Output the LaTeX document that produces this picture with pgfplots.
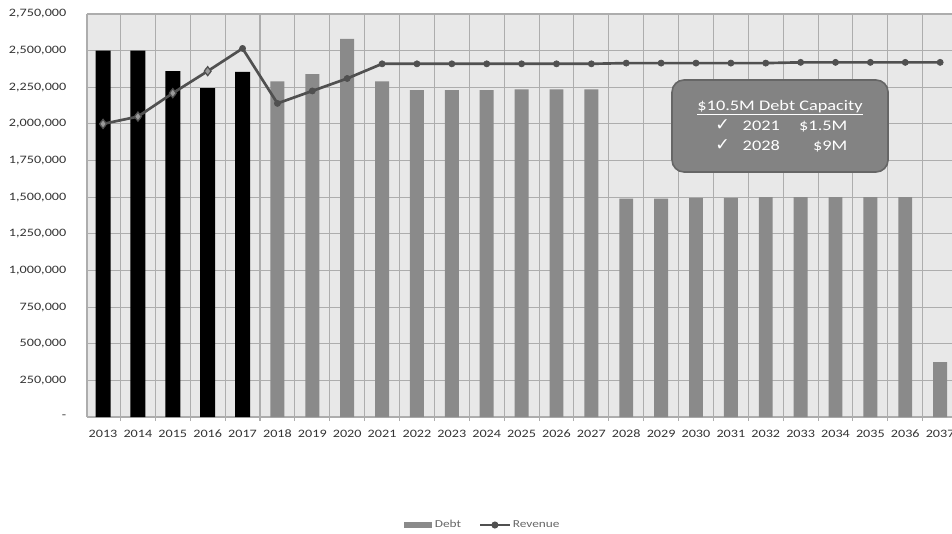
\documentclass[border=0pt]{standalone}
\usepackage{pgfplots}
\pgfplotsset{compat=1.18}
\usepackage{fontspec}
\setmainfont{Carlito}[FakeStretch=1.25]
\newfontfamily\symfont{DejaVu Sans}

\definecolor{plotbg}{HTML}{E8E8E8}
\definecolor{gridc}{HTML}{ADADAD}
\definecolor{debtgray}{HTML}{8A8A8A}
\definecolor{rev}{HTML}{505050}
\definecolor{revlight}{HTML}{9A9A9A}
\definecolor{labelc}{HTML}{333333}
\definecolor{legc}{HTML}{666666}
\definecolor{calloutfill}{HTML}{838383}
\definecolor{calloutborder}{HTML}{666666}

\begin{document}
\begin{tikzpicture}
\begin{axis}[
  at={(0pt,0pt)}, anchor=south west,
  scale only axis, width=648.75pt, height=302.25pt,
  xmin=-0.46, xmax=24.34, ymin=0, ymax=2750000,
  axis background/.style={fill=plotbg},
  axis x line*=bottom, axis y line*=left,
  axis line style={gridc, line width=0.8pt},
  scaled y ticks=false,
  ytick={0,250000,500000,750000,1000000,1250000,1500000,1750000,2000000,2250000,2500000,2750000},
  yticklabels={-,{250,000},{500,000},{750,000},{1,000,000},{1,250,000},{1,500,000},{1,750,000},{2,000,000},{2,250,000},{2,500,000},{2,750,000}},
  xtick={0,1,2,3,4,5,6,7,8,9,10,11,12,13,14,15,16,17,18,19,20,21,22,23,24},
  xticklabels={2013,2014,2015,2016,2017,2018,2019,2020,2021,2022,2023,2024,2025,2026,2027,2028,2029,2030,2031,2032,2033,2034,2035,2036,2037},
  minor xtick={-0.5,0.5,...,24.5},
  ymajorgrids, xminorgrids,
  major grid style={gridc, line width=0.8pt},
  minor grid style={gridc, line width=0.8pt},
  major tick length=0pt, minor tick length=3pt, tick align=outside,
  minor tick style={gridc, line width=0.8pt},
  ticklabel style={font=\fontsize{8.5}{10}\selectfont, text=labelc},
  yticklabel style={xshift=-12pt},
  xticklabel style={yshift=-6pt},
  /pgf/number format/assume math mode=true,
  legend style={at={(0.458,-0.268)}, anchor=center, draw=none, fill=none,
    legend columns=2, font=\fontsize{8}{10}\selectfont, text=legc,
    /tikz/every even column/.append style={column sep=12pt}},
]
% Debt, actual years (black)
\addplot[ybar, bar width=0.43, bar shift=0pt, fill=black, draw=none, forget plot]
  coordinates {(0,2500000)(1,2500000)(2,2360000)(3,2245000)(4,2355000)};
% Debt, projected years (gray)
\addplot[ybar, bar width=0.40, bar shift=0pt, fill=debtgray, draw=none,
  legend image code/.code={\fill[debtgray] (0pt,-2.5pt) rectangle (21pt,2.5pt);}]
  coordinates {(5,2290000)(6,2340000)(7,2580000)(8,2290000)(9,2230000)(10,2230000)
  (11,2230000)(12,2235000)(13,2235000)(14,2235000)(15,1490000)(16,1490000)
  (17,1495000)(18,1495000)(19,1500000)(20,1500000)(21,1500000)(22,1500000)
  (23,1500000)(24,375000)};
\addlegendentry{Debt}
% Revenue
\addplot[rev, line width=2pt, mark=*, mark size=2.3pt, mark options={fill=rev, draw=rev, line width=0.5pt},
  legend image code/.code={\draw[rev, line width=0.8pt] (0pt,0pt) -- (22pt,0pt); \fill[rev] (11pt,0pt) circle (1.6pt);}]
  coordinates {(0,2000000)(1,2050000)(2,2210000)(3,2360000)(4,2515000)(5,2140000)
  (6,2225000)(7,2310000)(8,2410000)(9,2410000)(10,2410000)(11,2410000)(12,2410000)
  (13,2410000)(14,2410000)(15,2415000)(16,2415000)(17,2415000)(18,2415000)
  (19,2415000)(20,2420000)(21,2420000)(22,2420000)(23,2420000)(24,2420000)};
\addlegendentry{Revenue}
\addplot[only marks, mark=diamond*, mark size=3.4pt, mark options={fill=revlight, draw=rev, line width=0.9pt}, forget plot]
  coordinates {(0,2000000)(1,2050000)(2,2210000)(3,2360000)};
% Callout
\node[draw=calloutborder, fill=calloutfill, rounded corners=9pt, line width=1.2pt,
  minimum width=162pt, minimum height=69pt, text=white, align=center,
  font=\fontsize{11}{15}\selectfont, inner sep=2pt]
  at (rel axis cs:0.8012,0.7221)
  {\underline{\$10.5M Debt Capacity}\\
   \makebox[15pt]{\symfont\fontsize{13}{15}\selectfont ✓}\hspace{7.5pt}\makebox[28.5pt][l]{2021}\makebox[50pt][r]{\$1.5M}\\
   \makebox[15pt]{\symfont\fontsize{13}{15}\selectfont ✓}\hspace{7.5pt}\makebox[28.5pt][l]{2028}\makebox[50pt][r]{\$9M}};
\end{axis}
\pgfresetboundingbox
\path[use as bounding box] (-65.25pt,-87pt) rectangle (648.75pt,312.75pt);
\end{tikzpicture}
\end{document}
